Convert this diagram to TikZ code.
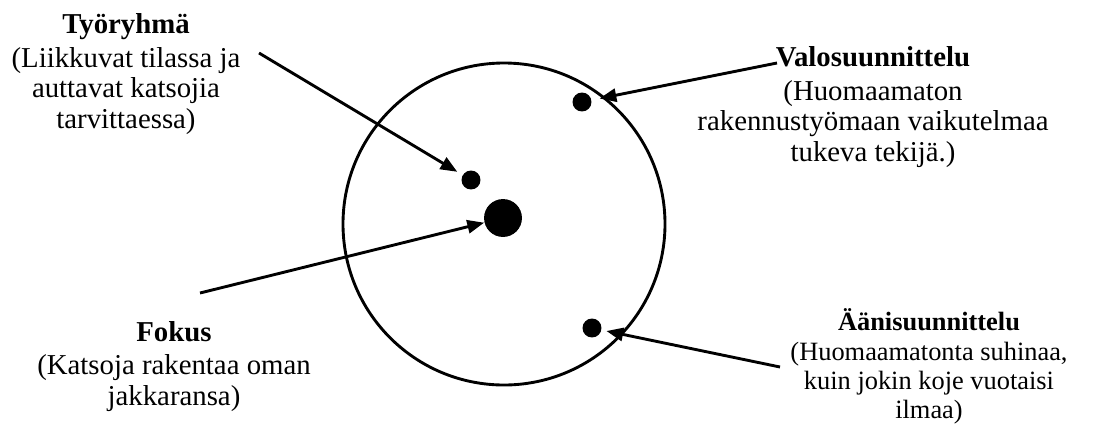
\documentclass[tikz,border=0pt]{standalone}
\usepackage{fontspec}
\setmainfont{Liberation Serif}
\usetikzlibrary{arrows.meta}

\tikzset{
  dot/.style={circle, fill=black, inner sep=0pt, minimum size=7.9pt},
  infotext/.style={align=center, anchor=base, inner sep=0pt, font=\fontsize{12}{12.7}\selectfont},
  pointer/.style={-{Triangle[length=7pt,width=5.5pt]}, line width=1.2pt}
}

\begin{document}
\begin{tikzpicture}[x=0.4167pt, y=-0.4167pt]
  \useasboundingbox (0,0) rectangle (1112,427);
  % stage and points
  \draw[line width=1.2pt] (504,224) circle[radius=161];
  \node[dot] (crew) at (471,180) {};
  \node[dot, minimum size=15.8pt] (focus) at (503,218) {};
  \node[dot] (light) at (582,102) {};
  \node[dot] (sound) at (592,328) {};
  % texts (anchored at the last line)
  \node[infotext] (crewtext) at (126,128) {\textbf{Työryhmä}\\[1.2pt](Liikkuvat tilassa ja\\auttavat katsojia\\tarvittaessa)};
  \node[infotext] (focustext) at (174,405) {\textbf{Fokus}\\[1.2pt](Katsoja rakentaa oman\\jakkaransa)};
  \node[infotext] (lighttext) at (873,161) {\textbf{Valosuunnittelu}\\[1.2pt](Huomaamaton\\rakennustyömaan vaikutelmaa\\tukeva tekijä.)};
  \node[infotext, font=\fontsize{11}{11.9}\selectfont] (soundtext) at (929,418) {\textbf{Äänisuunnittelu}\\[0.6pt](Huomaamatonta suhinaa,\\kuin jokin koje vuotaisi\\ilmaa)};
  % arrows
  \coordinate (crewstart) at (259,53);
  \coordinate (focusstart) at (200,293);
  \coordinate (lightstart) at (777,63);
  \coordinate (soundstart) at (780,367);
  \draw[pointer, shorten >=2.5pt] (crewstart) -- (crew);
  \draw[pointer] (focusstart) -- (focus);
  \draw[pointer, shorten >=3.3pt] (lightstart) -- (light);
  \draw[pointer, shorten >=2pt] (soundstart) -- (sound);
\end{tikzpicture}
\end{document}
